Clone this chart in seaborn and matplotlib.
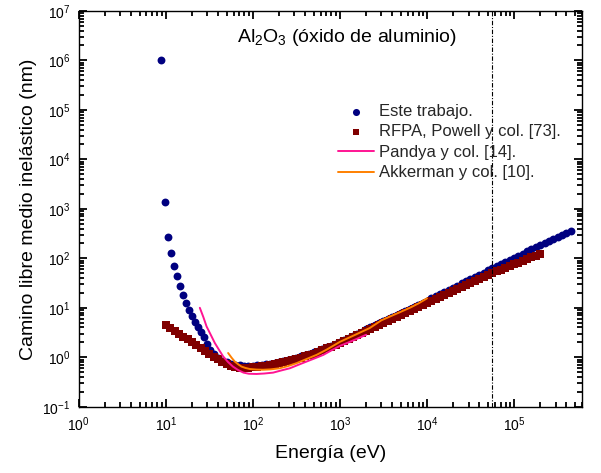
import numpy as np
import matplotlib
matplotlib.use("Agg")
import matplotlib.pyplot as plt
import seaborn as sns
from matplotlib.ticker import LogLocator, NullFormatter

# --- Datos: energia (eV) y camino libre medio (nm) --- #
este_E = [8.8, 9.7, 10.5, 11.5, 12.5, 13.4, 14.5, 15.7, 17.0, 18.5, 20.1, 21.7, 23.5, 25.5, 27.6, 29.8, 32.6,
          35.5, 39.8, 44.7, 50.1, 56.2, 63.1, 70.8, 79.4, 89.1,
          100, 112, 126, 141, 158, 178, 200, 224, 251, 282, 316, 355, 398, 447, 501, 562, 631, 708, 794, 891,
          1000, 1120, 1260, 1410, 1580, 1780, 2000, 2240, 2510, 2820, 3160, 3550, 3980, 4470, 5010, 5620,
          6310, 7080, 7940, 8910,
          10000, 11200, 12600, 14100, 15800, 17800, 20000, 22400, 25100, 28200, 31600, 35500, 39800, 44700,
          50100, 56200, 63100, 70800, 79400, 89100,
          100000, 112000, 126000, 141000, 158000, 178000, 200000, 224000, 251000, 282000, 316000, 355000,
          398000, 447000]
este_L = [1.0e6, 1380, 270, 127, 70, 43, 27, 18, 12.4, 9.0, 6.7, 5.2, 4.1, 3.3, 2.55, 1.87, 1.42,
          1.15, 0.97, 0.86, 0.79, 0.74, 0.71, 0.69, 0.68, 0.675,
          0.68, 0.69, 0.70, 0.72, 0.74, 0.77, 0.80, 0.84, 0.88, 0.93, 0.98, 1.04, 1.10, 1.18, 1.26, 1.35,
          1.46, 1.58, 1.72, 1.88,
          2.05, 2.26, 2.49, 2.74, 3.01, 3.32, 3.65, 4.02, 4.42, 4.87, 5.36, 5.90, 6.49, 7.15, 7.87, 8.66,
          9.53, 10.5, 11.5, 12.7,
          14.0, 15.5, 17.1, 18.9, 20.9, 23.1, 25.5, 28.2, 31.2, 34.5, 38.1, 42.1, 46.5, 51.4, 56.8, 62.8,
          69.3, 76.5, 84.4, 93.1,
          103, 113, 125, 138, 152, 167, 184, 203, 223, 246, 271, 298, 329, 362]

rfpa_E = [10, 11.2, 12.6, 14.1, 15.8, 17.8, 20.0, 22.4, 25.1, 28.2, 31.6, 35.5, 39.8, 44.7, 50.1, 56.2,
          63.1, 70.8, 79.4, 89.1,
          100, 112, 126, 141, 158, 178, 200, 224, 251, 282, 316, 355, 398, 447, 501, 562, 631, 708, 794, 891,
          1000, 1120, 1260, 1410, 1580, 1780, 2000, 2240, 2510, 2820, 3160, 3550, 3980, 4470, 5010, 5620,
          6310, 7080, 7940, 8910,
          10000, 11200, 12600, 14100, 15800, 17800, 20000, 22400, 25100, 28200, 31600, 35500, 39800, 44700,
          50100, 56200, 63100, 70800, 79400, 89100,
          100000, 112000, 126000, 141000, 158000, 178000, 200000]
rfpa_L = [4.5, 3.9, 3.4, 3.0, 2.62, 2.3, 2.0, 1.75, 1.55, 1.35, 1.18, 1.03, 0.91, 0.80, 0.72, 0.67,
          0.64, 0.62, 0.615, 0.62,
          0.63, 0.645, 0.66, 0.68, 0.705, 0.73, 0.76, 0.80, 0.84, 0.885, 0.93, 0.98, 1.04, 1.11, 1.19, 1.29,
          1.40, 1.52, 1.65, 1.80,
          1.96, 2.15, 2.36, 2.59, 2.84, 3.11, 3.41, 3.74, 4.11, 4.50, 4.94, 5.42, 5.94, 6.52, 7.15, 7.84,
          8.60, 9.44, 10.4, 11.3,
          12.4, 13.6, 14.9, 16.4, 18.0, 19.7, 21.6, 23.7, 26.0, 28.6, 31.4, 34.4, 37.8, 41.5, 45.5, 50.0,
          54.3, 58.9, 63.9, 69.3,
          75.2, 81.6, 88.6, 96.1, 104, 113, 123]

pandya_E = [24.6, 27, 29.4, 33, 36.6, 41, 45.6, 52, 59, 68, 78, 90, 110, 135, 171, 210, 266, 330, 414,
            520, 646, 800, 1000, 1300, 1600, 2000]
pandya_L = [10, 6.5, 4.2, 2.8, 1.94, 1.4, 1.04, 0.8, 0.65, 0.55, 0.49, 0.465, 0.46, 0.47, 0.49, 0.54,
            0.6, 0.7, 0.82, 0.96, 1.12, 1.38, 1.7, 2.05, 2.4, 2.85]

akker_E = [52, 57, 62, 68, 74, 82, 92, 110, 131, 160, 203, 250, 317, 400, 540, 700, 1000, 1500, 2200,
           3000, 4000, 5000, 6500, 8000, 10000]
akker_L = [1.22, 0.98, 0.82, 0.72, 0.65, 0.61, 0.58, 0.565, 0.56, 0.57, 0.6, 0.66, 0.76, 0.9, 1.12,
           1.42, 2.05, 2.85, 3.9, 5.6, 7.0, 8.3, 10.2, 12.3, 15.5]

E_corte = 5.6e4  # linea vertical punteada

sns.set_theme(style="ticks", rc={'axes.edgecolor': 'black', 'axes.linewidth': 1.0})
plt.rcParams['font.family'] = ['Liberation Sans', 'DejaVu Sans']
plt.rcParams['mathtext.fontset'] = 'custom'
plt.rcParams['mathtext.rm'] = 'Liberation Sans'
plt.rcParams['mathtext.it'] = 'Liberation Sans:italic'
plt.rcParams['mathtext.bf'] = 'Liberation Sans:bold'
plt.rcParams['mathtext.default'] = 'regular'

fig = plt.figure(figsize=(6.01, 4.73), dpi=100)
ax = fig.add_axes([0.131, 0.140, 0.837, 0.837])

sns.scatterplot(x=este_E, y=este_L, ax=ax, color='#000080', marker='o', s=32,
                linewidth=0, label='Este trabajo.')
sns.scatterplot(x=rfpa_E, y=rfpa_L, ax=ax, color='#800000', marker='s', s=28,
                linewidth=0, label='RFPA, Powell y col. [73].')
sns.lineplot(x=pandya_E, y=pandya_L, ax=ax, color='#FF1493', lw=1.4, sort=False,
             estimator=None, label='Pandya y col. [14].')
sns.lineplot(x=akker_E, y=akker_L, ax=ax, color='#FF8000', lw=1.4, sort=False,
             estimator=None, label='Akkerman y col. [10].')
ax.axvline(E_corte, color='black', lw=0.8, ls=(0, (4, 1.5, 1, 1.5)))

ax.set_xscale('log')
ax.set_yscale('log')
ax.set_xlim(1, 6e5)
ax.set_ylim(1e-1, 1e7)

ax.xaxis.set_major_locator(LogLocator(base=10, numticks=12))
ax.yaxis.set_major_locator(LogLocator(base=10, numticks=12))
ax.yaxis.set_minor_locator(LogLocator(base=10, subs=np.arange(2, 10), numticks=12))
ax.yaxis.set_minor_formatter(NullFormatter())

ax.tick_params(which='both', direction='in', top=True, right=True, color='black', width=1.3)
ax.tick_params(which='major', length=6, labelsize=10, pad=6, labelcolor='black')
ax.tick_params(which='minor', length=3.5)

ax.set_xlabel('Energía (eV)', fontsize=14, labelpad=8, color='black')
ax.set_ylabel('Camino libre medio inelástico (nm)', fontsize=14, labelpad=4, color='black')

ax.text(0.314, 0.932, r'Al$_2$O$_3$ (óxido de aluminio)', transform=ax.transAxes,
        fontsize=14, ha='left', va='center', color='black')

ax.legend(loc='upper left', bbox_to_anchor=(0.515, 0.765), frameon=False, fontsize=12,
          handlelength=2.2, handletextpad=0.3, labelspacing=0.33, borderpad=0,
          borderaxespad=0, markerscale=0.9)

fig.savefig('out.png', dpi=100)
